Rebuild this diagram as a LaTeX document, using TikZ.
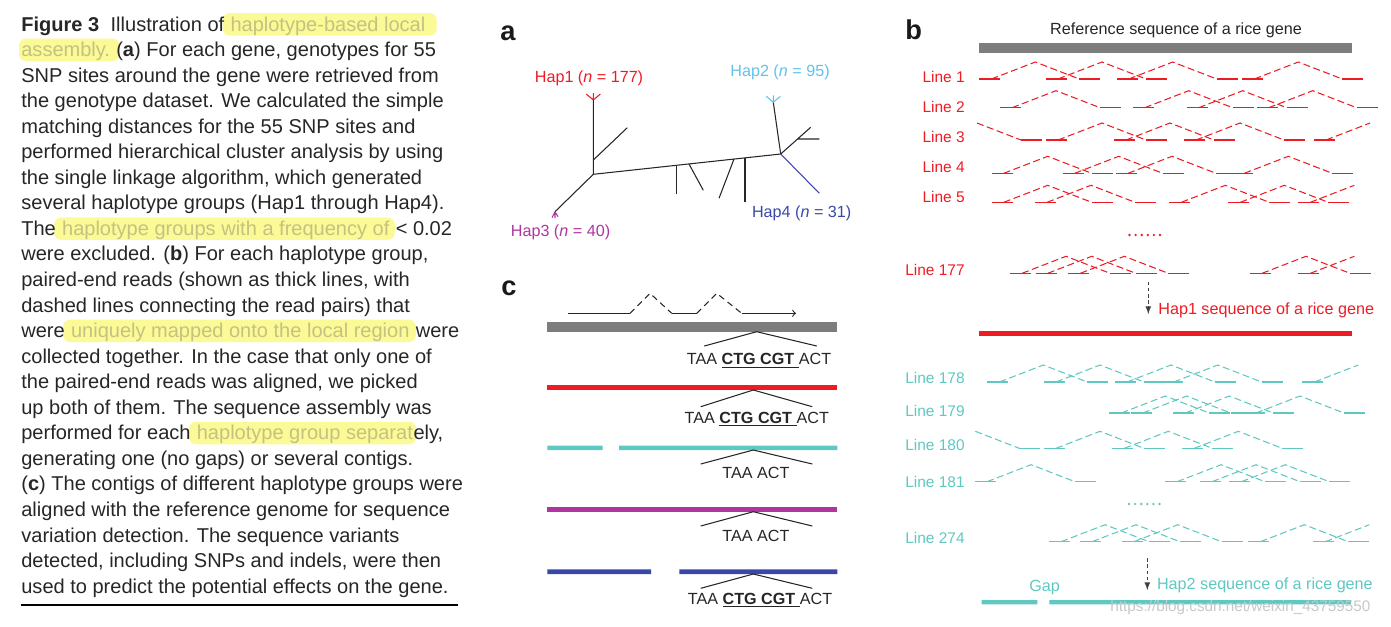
\documentclass[tikz,border=0pt]{standalone}
\usepackage{fontspec}
\setmainfont{Liberation Sans}
\usetikzlibrary{arrows,calc,backgrounds}
\definecolor{hapred}{RGB}{237,28,36}
\definecolor{hapteal}{RGB}{95,200,192}
\definecolor{hapsky}{RGB}{95,195,235}
\definecolor{hapmag}{RGB}{176,53,159}
\definecolor{hapblue}{RGB}{58,71,168}
\definecolor{refgrey}{RGB}{125,125,125}
\definecolor{hlfill}{RGB}{252,250,150}
\definecolor{hltext}{RGB}{196,194,130}
\tikzset{arrow/.style={->, >=latex}}
\tikzset{
  captxt/.style={anchor=base west, inner sep=0, text=black!85,
    font=\fontsize{11.4}{14}\selectfont},
  hl/.style={text=hltext},
  hlbox/.style={fill=hlfill, rounded corners=4pt},
  lab/.style={inner sep=0, text=black!85, font=\fontsize{9.2}{11}\selectfont},
  linelab/.style={anchor=base east, inner sep=0, font=\fontsize{8.8}{10}\selectfont},
  panel/.style={anchor=base west, inner sep=0, text=black!90,
    font=\bfseries\fontsize{15.5}{18}\selectfont},
  tree/.style={line width=0.6pt, black!85},
  readln/.style={line width=0.8pt},
  pairln/.style={line width=0.6pt, dash pattern=on 4pt off 2pt},
  fan/.style={line width=0.6pt, black!85},
  dasharr/.style={line width=0.5pt, black!75, dash pattern=on 2pt off 1.5pt},
}
% one read pair: left read at x, mate 100 px further right
\newcommand{\readpair}[3]{%
  \draw[readln, #3] (#1,#2) -- ++(21,0) (#1+100,#2) -- ++(21,0);
  \draw[pairln, #3] (#1+12,#2) -- (#1+56,#2-17) -- (#1+100,#2);}
\newcommand{\readleft}[3]{%
  \draw[readln, #3] (#1,#2) -- ++(21,0);
  \draw[pairln, #3] (#1+12,#2) -- (#1+56,#2-17);}
\newcommand{\readright}[3]{%
  \draw[pairln, #3] (#1+56,#2-17) -- (#1+100,#2);
  \draw[readln, #3] (#1+100,#2) -- ++(21,0);}
\newcommand{\snp}{TAA \underline{\textbf{CTG CGT }}ACT}

\begin{document}
\begin{tikzpicture}[x=0.02cm, y=-0.02cm]
  \useasboundingbox (0,0) rectangle (1391,626);

  % caption
  \node[captxt] (cap1) at (21,31) {\textbf{Figure 3}\hspace{6.5pt}Illustration of};
  \node[captxt, hl] (hl1) at (cap1.base east) {\ haplotype-based local};
  \node[captxt, hl] (hl2) at (21,56.55) {assembly.};
  \node[captxt] (cap2) at (hl2.base east) {\ (\textbf{a}) For each gene, genotypes for 55};
  \node[captxt] (cap9) at (21,235.4) {The};
  \node[captxt, hl] (hl9) at (cap9.base east) {\ haplotype groups with a frequency of};
  \node[captxt] (cap9b) at (hl9.base east) {\ < 0.02};
  \node[captxt] (cap13) at (21,337.6) {were};
  \node[captxt, hl] (hl13) at (cap13.base east) {\ uniquely mapped onto the local region};
  \node[captxt] (cap13b) at (hl13.base east) {\ were};
  \node[captxt] (cap17) at (21,439.8) {performed for each};
  \node[captxt, hl] (hl17) at (cap17.base east) {\ haplotype group separat};
  \node[captxt] (cap17b) at (hl17.base east) {ely,};
  \foreach \k/\t in {3/{SNP sites around the gene were retrieved from},
      4/{the genotype dataset. We calculated the simple},
      5/{matching distances for the 55 SNP sites and},
      6/{performed hierarchical cluster analysis by using},
      7/{the single linkage algorithm, which generated},
      8/{several haplotype groups (Hap1 through Hap4).},
      10/{were excluded. (\textbf{b}) For each haplotype group,},
      11/{paired-end reads (shown as thick lines, with},
      12/{dashed lines connecting the read pairs) that},
      14/{collected together. In the case that only one of},
      15/{the paired-end reads was aligned, we picked},
      16/{up both of them. The sequence assembly was},
      18/{generating one (no gaps) or several contigs.},
      19/{(\textbf{c}) The contigs of different haplotype groups were},
      20/{aligned with the reference genome for sequence},
      21/{variation detection. The sequence variants},
      22/{detected, including SNPs and indels, were then},
      23/{used to predict the potential effects on the gene.}}
    \node[captxt] (cap\k) at (21,{31+(\k-1)*25.55}) {\t};
  \begin{scope}[on background layer]
    \foreach \h/\e in {hl1/11, hl2/9, hl9/5, hl13/6, hl17/3}
      \fill[hlbox] ($(\h.base west)+(-2,4.5)$) rectangle ($(\h.base east)+(\e,-18)$);
  \end{scope}
  \draw[line width=0.6pt] (21,605) -- (458,605);

  % a: tree of haplotypes
  \node[panel] (pa) at (500,40.7) {a};
  \coordinate (ja) at (593.3,174.3);
  \coordinate (jb) at (780.7,154);
  \coordinate (tip1) at (593.3,100);
  \coordinate (tip2) at (773.3,102.3);
  \coordinate (tip3) at (555,211.7);
  \coordinate (tip4) at (819.3,193.3);
  \draw[tree] (tip1) -- (ja) -- (jb) -- (tip2);
  \draw[tree] (ja) -- (tip3);
  \draw[tree] (593.3,160) -- (627.3,127.7);
  \foreach \xa/\ya/\xb/\yb in {676.7/165/676.7/194, 689/164/703.3/190.3,
      734/159/719/198.3, 745/158.3/745/202.3}
    \draw[tree] (\xa,\ya) -- (\xb,\yb);
  \draw[tree] (jb) -- (810.7,127.3) (797.6,139) -- (819.3,139);
  \draw[tree, hapblue] (jb) -- (tip4);
  \draw[tree, hapred] (tip1) -- ++(-7,-6) (tip1) -- ++(7,-6) (tip1) -- ++(0,-7);
  \draw[tree, hapsky] (tip2) -- ++(-7,-6) (tip2) -- ++(7,-6) (tip2) -- ++(0,-7);
  \draw[tree, hapmag] (tip3) -- ++(-3,6) (tip3) -- ++(0,6.5) (tip3) -- ++(3,5);
  \node[lab, text=hapred] (hap1) at (589,78.5) {Hap1 (\textit{n} = 177)};
  \node[lab, text=hapsky] (hap2) at (780,72.5) {Hap2 (\textit{n} = 95)};
  \node[lab, text=hapmag] (hap3) at (560.5,232) {Hap3 (\textit{n} = 40)};
  \node[lab, text=hapblue] (hap4) at (801.7,213.3) {Hap4 (\textit{n} = 31)};

  % c: contigs against the reference
  \node[panel] (pc) at (501,295) {c};
  \coordinate (g0) at (567.7,313.3);
  \coordinate (g1) at (630,313.3);
  \coordinate (g2) at (650,293.3);
  \coordinate (g3) at (671.7,313.3);
  \coordinate (g4) at (696.7,313.3);
  \coordinate (g5) at (716.7,293.3);
  \coordinate (g6) at (741.7,313.3);
  \coordinate (g7) at (796,313.3);
  \draw[fan] (g0) -- (g1) (g3) -- (g4);
  \draw[fan, dash pattern=on 3.5pt off 2.5pt] (g1) -- (g2) -- (g3) (g4) -- (g5) -- (g6);
  \draw[fan, ->] (g6) -- (g7);
  \fill[refgrey] (547.3,321.7) rectangle (837.3,331.7);
  \fill[hapred] (547.3,385) rectangle (837.3,390);
  \fill[hapteal] (547.3,445.7) rectangle (602.7,450) (619,445.7) rectangle (837.3,450);
  \fill[hapmag] (547.3,507.3) rectangle (837.3,511.7);
  \fill[hapblue] (547.3,569.3) rectangle (651,574) (679.3,569.3) rectangle (837.3,574);
  \draw[fan] (704.3,346) -- (756.7,331.7) -- (816.7,346);
  \foreach \ya/\yb in {390/406.7, 450/464, 511.7/526, 574/588.3}
    \draw[fan] (700.7,\yb) -- (753.3,\ya) -- (812.3,\yb);
  \node[lab, anchor=base] (seq0) at (759,364.5) {\snp};
  \node[lab, anchor=base] (seq1) at (756.8,423) {\snp};
  \node[lab, anchor=base] (seq2) at (756,478) {TAA ACT};
  \node[lab, anchor=base] (seq3) at (756,541) {TAA ACT};
  \node[lab, anchor=base] (seq4) at (760,604) {\snp};

  % b: reads of each line
  \node[panel] (pb) at (905,39.3) {b};
  \node[lab] (reftxt) at (1176,30) {Reference sequence of a rice gene};
  \fill[refgrey] (979,43) rectangle (1352,53);
  \foreach \n/\y in {1/82.7, 2/112.7, 3/142.7, 4/172.7, 5/202.7, 177/275}
    \node[linelab, text=hapred] (line\n) at (965,\y) {Line \n};
  \foreach \x in {979.3,1046,1116.7,1242.3} {\readpair{\x}{79}{hapred}}
  \foreach \x in {1000,1132.7,1186.7,1256.7} {\readpair{\x}{107.7}{hapred}}
  \foreach \x in {1046,1114,1184} {\readpair{\x}{140}{hapred}}
  \readright{921}{140}{hapred}
  \readleft{1314}{140}{hapred}
  \foreach \x in {991.7,1062.7,1116,1232.3} {\readpair{\x}{173.3}{hapred}}
  \foreach \x in {991.7,1035,1169.3,1228.3} {\readpair{\x}{202.3}{hapred}}
  \readleft{1298.3}{202.3}{hapred}
  \foreach \i in {0,...,5} \fill[hapred] (1129.5+\i*6.1,235) circle (0.75pt);
  \foreach \x in {1010,1035.7,1068.3,1250} {\readpair{\x}{273.3}{hapred}}
  \readleft{1298.3}{273.3}{hapred}
  \coordinate (d1s) at (1148.3,281.7);
  \coordinate (d1e) at (1148.3,314);
  \draw[arrow, dasharr] (d1s) -- (d1e);
  \node[lab, text=hapred, anchor=west] (hap1seq) at (1158,310) {Hap1 sequence of a rice gene};
  \fill[hapred] (979,330.7) rectangle (1352,336);

  \foreach \n/\y in {178/383.3, 179/416.7, 180/450, 181/487.3, 274/543.3}
    \node[linelab, text=hapteal] (line\n) at (965,\y) {Line \n};
  \foreach \x in {987.3,1044,1115,1161.7} {\readpair{\x}{382}{hapteal}}
  \readleft{1302.3}{382}{hapteal}
  \foreach \x in {1109.3,1130.7,1173.3,1244} {\readpair{\x}{413}{hapteal}}
  \foreach \x in {1044,1112.3,1182.3} {\readpair{\x}{448.3}{hapteal}}
  \readright{919.3}{448.3}{hapteal}
  \foreach \x in {975,1165,1200,1229.3} {\readpair{\x}{481.7}{hapteal}}
  \foreach \i in {0,...,5} \fill[hapteal] (1129+\i*6.1,504) circle (0.75pt);
  \foreach \x in {1049,1080,1121.7,1248.3} {\readpair{\x}{541.7}{hapteal}}
  \readleft{1313.3}{541.7}{hapteal}
  \coordinate (d2s) at (1147.3,558.3);
  \coordinate (d2e) at (1147.3,590);
  \draw[arrow, dasharr] (d2s) -- (d2e);
  \node[lab, text=hapteal, anchor=west] (hap2seq) at (1156.7,585) {Hap2 sequence of a rice gene};
  \node[lab, text=hapteal, anchor=west] (gap) at (1029,587.5) {Gap};
  \fill[hapteal] (981.7,600) rectangle (1037.3,604.3) (1049.3,600) rectangle (1351,604.3);
  \node[lab, text=black!22, anchor=west, font=\fontsize{8.7}{10}\selectfont] (wm)
    at (1110,608) {https://blog.csdn.net/weixin\_43759550};
\end{tikzpicture}
\end{document}
